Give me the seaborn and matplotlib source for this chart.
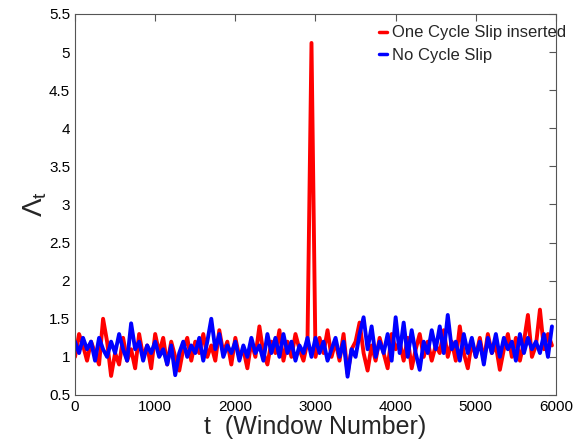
import matplotlib
matplotlib.use("Agg")
import matplotlib.pyplot as plt
import numpy as np
import pandas as pd
import seaborn as sns

# window index (every 50 windows)
t = np.arange(0, 6000, 50)

one_slip = [
    1.0, 1.3, 1.15, 0.95, 1.2, 1.05, 0.9, 1.5, 1.2, 0.75,
    1.05, 0.9, 1.25, 0.95, 1.1, 0.85, 1.3, 1.0, 1.15, 0.85,
    1.3, 1.05, 1.25, 0.9, 1.2, 1.0, 0.82, 1.1, 1.25, 0.95,
    1.2, 1.05, 1.3, 1.0, 1.15, 0.95, 1.35, 1.05, 1.2, 0.9,
    1.25, 1.0, 1.1, 0.85, 1.2, 1.0, 1.4, 1.05, 0.9, 1.2,
    1.05, 1.35, 0.95, 1.2, 1.0, 1.3, 1.1, 0.95, 1.2, 5.12,
    1.0, 1.25, 1.05, 1.35, 1.0, 1.2, 0.95, 1.3, 0.78, 1.1,
    1.2, 1.45, 1.05, 0.82, 1.15, 0.95, 1.25, 1.05, 0.85, 1.3,
    1.1, 1.2, 0.95, 1.25, 0.85, 1.1, 1.3, 1.0, 1.2, 0.95,
    1.15, 1.05, 1.35, 1.0, 1.2, 0.95, 1.4, 1.05, 0.85, 1.2,
    1.0, 1.25, 0.95, 1.3, 1.05, 1.15, 0.83, 1.1, 1.3, 1.0,
    1.25, 0.95, 1.2, 1.55, 1.0, 1.15, 1.62, 1.1, 1.3, 1.15,
]

no_slip = [
    1.2, 1.05, 1.25, 1.1, 1.2, 0.95, 1.25, 1.1, 1.0, 1.2,
    1.05, 1.3, 1.1, 0.95, 1.44, 1.1, 1.2, 0.95, 1.15, 1.05,
    1.2, 1.0, 1.1, 0.9, 1.15, 0.76, 1.05, 1.2, 1.0, 1.15,
    1.05, 1.25, 0.95, 1.2, 1.5, 1.1, 1.3, 1.0, 1.15, 1.05,
    1.2, 0.95, 1.15, 1.0, 1.25, 1.05, 1.15, 0.95, 1.3, 1.05,
    1.25, 1.0, 1.3, 1.05, 1.2, 0.95, 1.15, 1.05, 1.25, 1.0,
    1.25, 1.05, 1.2, 0.95, 1.1, 1.25, 1.0, 1.2, 0.74, 1.1,
    1.0, 1.3, 1.52, 1.1, 1.4, 1.0, 1.2, 1.05, 1.3, 0.95,
    1.52, 1.05, 1.45, 1.0, 1.35, 1.05, 0.83, 1.2, 1.05, 1.35,
    1.1, 1.4, 1.05, 1.55, 1.1, 1.2, 0.95, 1.3, 1.05, 1.25,
    1.0, 1.2, 0.9, 1.25, 1.05, 1.3, 1.0, 1.25, 1.1, 1.2,
    0.95, 1.3, 1.05, 1.25, 1.1, 1.2, 1.05, 1.3, 1.0, 1.4,
]

labels = ["One Cycle Slip inserted", "No Cycle Slip"]
colors = ["#ff0000", "#0000ff"]

df = pd.DataFrame({
    "t": np.concatenate([t, t]),
    "val": one_slip + no_slip,
    "series": [labels[0]] * len(t) + [labels[1]] * len(t),
})

sns.set_style("white")
plt.rcParams["font.family"] = ["Liberation Sans", "DejaVu Sans"]
plt.rcParams["mathtext.fontset"] = "custom"
plt.rcParams["mathtext.rm"] = "Liberation Sans"

fig = plt.figure(figsize=(5.74, 4.43), dpi=100)
ax = fig.add_axes([0.1307, 0.1084, 0.8379, 0.86])
sns.lineplot(data=df, x="t", y="val", hue="series", palette=colors,
             linewidth=2.8, ax=ax)

ax.set_xlim(0, 6000)
ax.set_ylim(0.5, 5.5)
ax.set_xticks(np.arange(0, 6001, 1000))
yt = np.arange(0.5, 5.51, 0.5)
ax.set_yticks(yt)
ax.set_yticklabels([f"{v:g}" for v in yt])
ax.tick_params(direction="in", length=5, labelsize=11, colors="#555555",
               labelcolor="black", top=True, right=True)
for s in ax.spines.values():
    s.set_color("#555555")
    s.set_linewidth(0.8)

ax.set_xlabel("t  (Window Number)", fontsize=18, labelpad=1)
ax.set_ylabel("Λ$_\\mathrm{t}$", fontsize=20, labelpad=0)

leg = ax.legend(loc="upper left", bbox_to_anchor=(0.632, 0.97),
                frameon=False, fontsize=12, borderpad=0.0,
                handlelength=0.5, handletextpad=0.3, borderaxespad=0.0,
                labelspacing=0.45)
for h in leg.get_lines():
    h.set_linewidth(2.5)

fig.savefig("out.png", dpi=100)
